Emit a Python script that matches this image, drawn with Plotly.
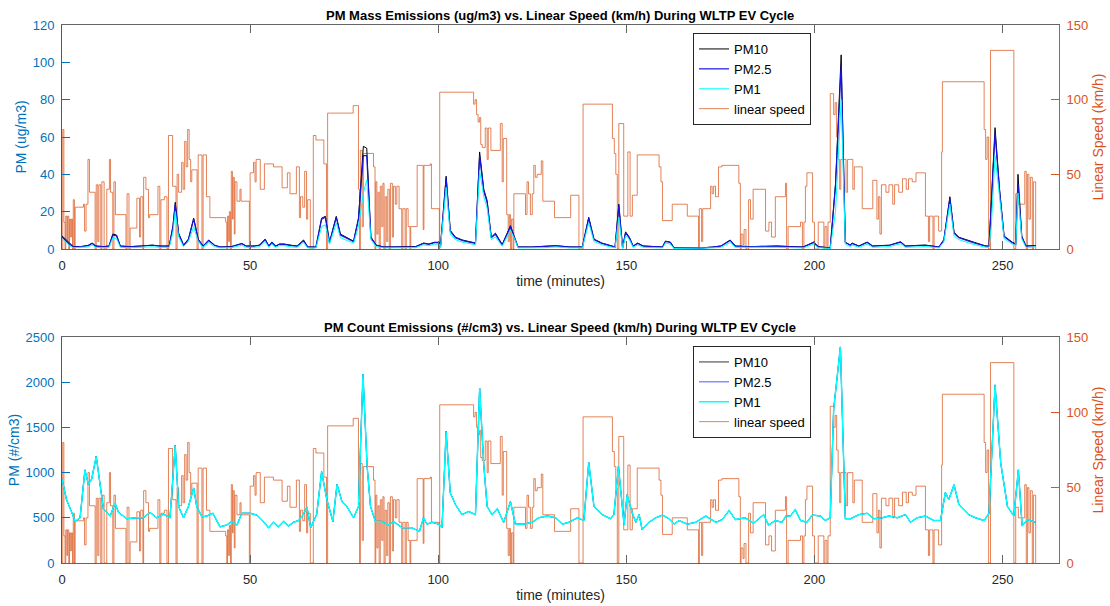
import plotly.graph_objects as go

# ---------------- data ----------------
# linear speed (km/h), step signal: value holds from time t until next time
speed_t = [0, 0.2, 0.5, 0.8, 1.0, 1.3, 1.5, 1.8, 2.0, 2.3, 2.5, 2.8, 3.0, 3.3, 3.5, 5.7, 6.0, 6.4, 6.9, 7.3,
           8.8, 9.1, 9.5, 9.8, 10.3, 10.6, 11.2, 11.9, 12.6, 12.9, 13.5, 13.8, 14.2, 17.0, 17.3, 17.8, 18.1,
           19.9, 20.6, 20.9, 21.5, 21.7, 22.3, 23.0, 23.3, 25.5, 26.0, 26.3, 27.2, 27.9, 28.3, 29.4, 30.3,
           30.6, 31.0, 31.8, 32.2, 32.6, 33.0, 33.4, 33.8, 34.2, 34.5, 35.9, 36.2, 37.2, 37.5, 38.4, 39.3,
           43.5, 43.8, 44.0, 44.3, 44.5, 44.8, 45.0, 45.3, 45.5, 45.8, 46.0, 46.5, 47.3, 47.6, 49.8, 50.0,
           50.9, 51.3, 51.6, 52.7, 53.8, 56.2, 58.5, 59.9, 60.6, 62.3, 63.1, 63.4, 64.0, 64.5, 65.0, 65.3,
           66.0, 66.8, 67.5, 69.6, 70.3, 70.6, 77.4, 78.8, 79.1, 79.3, 79.8, 80.1, 82.8, 83.2, 83.4, 83.7,
           84.0, 84.3, 84.6, 85.0, 85.3, 85.6, 85.9, 86.3, 86.6, 87.0, 87.3, 87.8, 88.1, 88.6, 89.0, 89.6,
           90.3, 90.6, 91.2, 91.5, 92.0, 92.5, 92.7, 94.4, 96.0, 96.2, 97.9, 98.2, 100.3, 100.4, 109.4,
           109.8, 110.2, 110.6, 111.0, 111.3, 111.7, 112.5, 113.0, 113.3, 114.0, 116.5, 117.0, 117.3, 118.2,
           118.6, 118.9, 119.2, 119.5, 119.9, 120.1, 121.2, 123.2, 123.6, 124.0, 124.5, 125.0, 125.4, 125.8,
           126.3, 127.4, 127.8, 129.0, 130.9, 135.2, 137.4, 138.5, 146.3, 146.8, 147.2, 147.6, 148.0, 149.3,
           150.4, 151.0, 151.6, 152.9, 158.7, 159.2, 159.6, 162.2, 166.2, 169.2, 169.4, 170.0, 170.3, 172.4,
           172.8, 173.2, 173.7, 174.5, 175.4, 179.9, 180.3, 180.5, 181.0, 181.3, 181.8, 182.5, 183.0, 183.7,
           187.0, 187.9, 188.6, 189.6, 192.3, 192.6, 193.0, 196.3, 196.8, 197.2, 197.6, 198.0, 199.5, 200.0,
           201.0, 202.5, 202.8, 203.3, 203.6, 204.2, 205.1, 205.5, 205.9, 206.3, 206.7, 207.0, 208.4, 208.8,
           210.2, 210.6, 212.7, 215.5, 216.6, 217.0, 217.4, 217.8, 219.0, 219.8, 220.8, 221.3, 222.4, 223.4,
           224.4, 225.0, 226.0, 227.0, 229.5, 230.3, 230.6, 231.5, 231.8, 233.0, 233.8, 234.0, 245.1, 245.5,
           245.9, 246.3, 246.8, 253.0, 253.5, 254.2, 255.9, 256.3, 256.6, 257.0, 257.4, 257.9, 258.2, 258.8]
speed_v = [0, 80, 18, 0, 22, 5, 22, 0, 20, 8, 20, 0, 33, 0, 28, 30, 12, 30, 60, 38,
           0, 43, 5, 43, 0, 45, 0, 40, 60, 38, 0, 45, 23, 0, 37, 0, 14,
           34, 8, 35, 0, 48, 40, 21, 23, 42, 0, 33, 35, 0, 76, 42, 0,
           50, 38, 58, 40, 72, 55, 80, 60, 45, 53, 0, 63, 0, 63, 35, 21,
           18, 0, 22, 5, 25, 0, 52, 20, 48, 10, 45, 32, 40, 32, 0, 51,
           58, 45, 60, 40, 57, 55, 41, 51, 37, 55, 21, 35, 28, 52, 20, 33,
           0, 76, 73, 57, 0, 91, 96, 40, 0, 66, 15, 64, 55, 0, 45, 10,
           38, 0, 42, 15, 44, 0, 35, 5, 40, 0, 44, 8, 42, 30, 42, 27,
           0, 27, 0, 27, 15, 0, 15, 56, 13, 56, 57, 27, 0, 105, 97,
           100, 90, 85, 88, 70, 68, 81, 60, 81, 66, 84, 45, 74, 23,
           5, 23, 0, 20, 0, 37, 37, 23, 45, 37, 23, 37, 56, 48,
           50, 59, 32, 32, 21, 36, 0, 97, 74, 64, 50, 0, 84, 22,
           65, 22, 36, 63, 55, 45, 19, 30, 22, 0, 27, 5, 27, 42,
           37, 42, 35, 55, 56, 44, 0, 10, 3, 13, 0, 33, 20, 40,
           12, 18, 8, 35, 44, 0, 15, 18, 0, 18, 42, 51, 18, 0,
           18, 0, 15, 0, 18, 104, 90, 98, 75, 60, 40, 60, 38, 60,
           40, 55, 27, 46, 20, 35, 10, 43, 38, 43, 30, 43, 38, 47,
           40, 47, 45, 51, 22, 5, 22, 0, 22, 12, 65, 112, 80, 60,
           75, 0, 133, 0, 37, 30, 52, 0, 50, 20, 48, 0, 45, 0]

# PM mass (ug/m3)
pm_t = [0, 1, 2, 3, 5, 7, 8, 9, 11, 12.5, 13.5, 14.5, 15.5, 18, 21, 24, 26, 28.5, 29.5, 30.1,
        31, 32.3, 33.6, 35, 36.2, 37.5, 39, 40.5, 42, 45, 47.8, 49, 51, 52.5, 54, 55, 55.8, 56.8, 57.8, 59,
        61, 62.5, 64.2, 65.3, 67.5, 69, 70, 71.1, 72.9, 74, 77.5, 78.8, 80.1, 81, 82.1, 83.5, 85.5, 88, 92, 94,
        96.1, 97.5, 99, 100.3, 100.6, 102.1, 103.2, 104.6, 106.5, 109.9, 111, 112.1, 113, 114.1, 115.2, 117,
        119.2, 120.4, 121.2, 125, 128, 131.2, 135, 138.3, 140, 141.4, 143.5, 145.4, 147, 148, 149, 149.8,
        150.8, 151.8, 153, 154.5, 159.6, 160.4, 161.7, 162.7, 166, 170, 173, 175.1, 177.6, 179, 183, 187,
        190, 194, 197, 199.8, 201, 204.2, 205.6, 207.1, 208.2, 209.5, 210, 211.8, 214, 215.5, 218, 220,
        222.9, 224.2, 227, 229.5, 233.1, 234.4, 236, 237.1, 238.4, 242, 245.5, 246.4, 247, 248, 249.2,
        250.4, 252.6, 253.5, 254.1, 255.1, 256.2, 258.8]
pm10_mass = [7, 5, 2.8, 1.3, 1.3, 2, 3.2, 1.6, 1.3, 1.6, 8, 7.5, 1.6, 1.3, 1.6, 2.1, 1.6, 1.6, 12.5, 25,
             8.5, 2.2, 5.3, 16.5, 5.3, 1.6, 4.8, 2.1, 1.1, 1.3, 3, 1.6, 1.6, 2.1, 5.3, 1.6, 3.7, 1.6, 2.7, 2.7,
             2, 1.6, 4.8, 1.1, 1.1, 16.5, 17.5, 3.6, 17.5, 8, 4.2, 16.5, 55, 54, 6.5, 2.1, 1.1, 1.1, 1.1, 1.3,
             3.2, 2.7, 3.6, 3.6, 1.1, 39, 10, 6.3, 4.8, 3.2, 52, 32, 26, 6.3, 8.5, 2.4,
             12.5, 6.3, 1.1, 1.1, 1.3, 1.8, 1.1, 1.1, 17, 5.3, 3.2, 2.1, 1.1, 24, 0.6, 9.2,
             6.3, 1.6, 3.2, 1.6, 1.1, 4.2, 3.7, 0.6, 0.6, 0.6, 1.1, 1.6, 4.8, 1.6, 1.3, 1.6,
             1.6, 1.3, 1.1, 3.7, 1.3, 0.6, 35, 104, 3.7, 2.1, 3.2, 1.6, 3.7, 1.6, 1.9, 2.1,
             3.9, 1.6, 1.9, 2.1, 1.1, 5, 28, 9, 6.3, 3.7, 1.6, 1.6, 24, 65, 32,
             7, 3.6, 2.7, 40, 7, 1.6, 1.9]
pm25_mass = [6.5, 4.5, 2.5, 1.2, 1.2, 1.8, 3, 1.5, 1.2, 1.5, 7.5, 7, 1.5, 1.2, 1.5, 2, 1.5, 1.5, 12, 24,
             8, 2, 5, 16, 5, 1.5, 4.5, 2, 1, 1.2, 2.8, 1.5, 1.5, 2, 5, 1.5, 3.5, 1.5, 2.5, 2.5,
             1.8, 1.5, 4.5, 1, 1, 16, 17, 3.4, 17, 7.5, 4, 16, 50, 50, 6, 2, 1, 1, 1, 1.2,
             3, 2.5, 3.4, 3.4, 1, 38, 9.5, 6, 4.5, 3, 50, 31, 25, 6, 8, 2.2,
             12, 6, 1, 1, 1.2, 1.7, 1, 1, 16.5, 5, 3, 2, 1, 23, 0.5, 8.7,
             6, 1.5, 3, 1.5, 1, 4, 3.5, 0.5, 0.5, 0.5, 1, 1.5, 4.6, 1.5, 1.2, 1.5,
             1.5, 1.2, 1, 3.5, 1.2, 0.5, 34, 98, 3.5, 2, 3, 1.5, 3.5, 1.5, 1.8, 2,
             3.7, 1.5, 1.8, 2, 1, 4.8, 27, 8.5, 6, 3.5, 1.5, 1.5, 23, 62, 31,
             6.6, 3.4, 2.5, 35, 6.5, 1.5, 1.8]
pm1_mass = [5.5, 3.5, 1.8, 0.7, 0.7, 1.1, 2.2, 0.9, 0.7, 0.9, 6, 5.5, 0.9, 0.7, 0.9, 1.2, 0.9, 0.9, 9, 20,
            6.5, 1.3, 4, 12, 4, 0.9, 3.5, 1.3, 0.6, 0.7, 2, 0.9, 0.9, 1.3, 4, 0.9, 2.6, 0.9, 1.8, 1.8,
            1.1, 0.9, 3.5, 0.6, 0.6, 12, 13, 2.6, 14, 6, 3.2, 12, 30, 37, 5, 1.3, 0.6, 0.6, 0.6, 0.7,
            2.2, 1.8, 2.6, 2.6, 0.6, 33, 8, 5, 3.6, 2.3, 42, 28, 22, 5, 6.5, 1.5,
            10, 5, 0.6, 0.6, 0.7, 1.1, 0.6, 0.6, 14, 4, 2.3, 1.3, 0.6, 17, 0.3, 7,
            5, 0.9, 2.2, 0.9, 0.6, 3.2, 2.6, 0.3, 0.3, 0.3, 0.6, 0.9, 3.5, 0.9, 0.7, 0.9,
            0.9, 0.7, 0.6, 2.6, 0.7, 0.3, 20, 80, 2.6, 1.3, 2.2, 0.9, 2.6, 0.9, 1.1, 1.3,
            2.8, 0.9, 1.1, 1.3, 0.6, 3.8, 24, 7, 5, 2.6, 0.9, 0.9, 12, 50, 28,
            5.5, 2.6, 1.8, 30, 5.5, 0.9, 1.1]

# PM count (#/cm3)
pc_t = [0, 1.2, 2.6, 3.5, 4.8, 6.1, 7, 7.9, 9.1, 10.1, 11, 12.8, 14.1, 15, 17.2, 19.9, 21.6, 23.4, 25.2, 27,
        28.7, 30.1, 31, 32.3, 33.6, 35, 35.8, 37.2, 38.5, 40.1, 42, 43.8, 45.1, 46.5, 47.8, 50, 51.8, 53.5,
        54.9, 56.2, 57.5, 58.9, 60.2, 61.5, 62.9, 64.2, 65.1, 66.1, 67.7, 69, 70.4, 72, 73.1, 74.4, 75.7,
        77.5, 78.8, 80, 81.1, 82, 83.3, 85, 86.8, 88.1, 90.4, 93, 95, 96.1, 97, 98.4, 100.1, 101, 102.1,
        103.2, 104.6, 106.3, 108.1, 109.9, 111, 112.1, 113, 114.3, 115.7, 117.4, 119.2, 120.5, 122.7, 125,
        126.7, 129, 131.2, 133, 134.7, 137, 138.7, 140, 141.4, 143.6, 145.8, 146.7, 147.9, 149.4, 150.2,
        151.6, 152.5, 153.4, 154.2, 156, 157.8, 159.6, 161.3, 162.7, 164, 166.2, 168.4, 171.1, 173.8,
        175.5, 177.3, 179, 181.6, 183.8, 186.5, 187.8, 189.6, 191.4, 192.4, 193.6, 194.9, 196.3, 198,
        199.4, 201.6, 202.9, 204.2, 205.1, 206.9, 208.2, 209.6, 211.8, 214, 215.8, 218, 219.8, 222,
        224.2, 225.5, 227.3, 229.5, 231.7, 233.5, 234.8, 235.7, 237.1, 238.4, 241, 242.8, 245.1, 246.4,
        248, 249.5, 251.3, 253, 254.2, 255.2, 256.6, 258.8]
pm1_count = [930, 700, 560, 460, 500, 1030, 870, 930, 1180, 870, 600, 520, 663, 560, 490, 500, 500, 560, 500, 540,
             500, 1300, 625, 500, 625, 830, 625, 510, 520, 550, 400, 420, 460, 420, 550, 550, 530, 460,
             390, 450, 400, 460, 410, 450, 470, 540, 620, 390, 540, 1010, 700, 460, 870, 680, 625,
             500, 625, 2090, 1070, 625, 460, 460, 420, 460, 390, 390, 350, 500, 430, 450, 430, 390, 1455,
             775, 645, 535, 570, 535, 1935, 1090, 625, 535, 600, 450, 680, 430, 430, 450,
             500, 520, 500, 430, 450, 500, 470, 1110, 625, 535, 490, 535, 1070, 420, 755,
             550, 450, 535, 370, 450, 500, 530, 490, 430, 470, 430, 450, 520, 450,
             480, 580, 480, 500, 440, 535, 420, 470, 450, 520, 520, 590, 470, 450,
             530, 520, 470, 500, 1700, 2390, 490, 490, 535, 550, 490, 500, 520, 500,
             535, 450, 500, 520, 470, 470, 780, 700, 865, 645, 535, 500, 470, 550,
             1970, 1110, 625, 520, 1030, 410, 480, 450]
# PM10 and PM2.5 counts coincide with PM1 in the picture (hidden beneath the cyan line)
pm10_count = list(pm1_count)
pm25_count = list(pm1_count)

# ---------------- style ----------------
BLUE_AX = "rgb(0,114,189)"
ORANGE = "rgb(217,83,25)"
SPEED_LINE = "rgba(217,83,25,0.72)"
FONT = "Liberation Sans, Arial, Helvetica, sans-serif"
GRAYAX = "rgb(100,100,100)"

fig = go.Figure()

# top subplot: speed on y (right, primary), PM on y2 (left, overlay)
fig.add_trace(go.Scatter(x=speed_t, y=speed_v, mode="lines", line=dict(color=SPEED_LINE, width=1, shape="hv"),
                         name="linear speed", legend="legend", legendrank=4, xaxis="x", yaxis="y"))
fig.add_trace(go.Scatter(x=pm_t, y=pm10_mass, mode="lines", line=dict(color="black", width=1),
                         name="PM10", legend="legend", legendrank=1, xaxis="x", yaxis="y2"))
fig.add_trace(go.Scatter(x=pm_t, y=pm25_mass, mode="lines", line=dict(color="rgb(20,20,230)", width=1.2),
                         name="PM2.5", legend="legend", legendrank=2, xaxis="x", yaxis="y2"))
fig.add_trace(go.Scatter(x=pm_t, y=pm1_mass, mode="lines", line=dict(color="rgb(0,255,255)", width=1),
                         name="PM1", legend="legend", legendrank=3, xaxis="x", yaxis="y2"))

# bottom subplot
fig.add_trace(go.Scatter(x=speed_t, y=speed_v, mode="lines", line=dict(color=SPEED_LINE, width=1, shape="hv"),
                         name="linear speed", legend="legend2", legendrank=4, xaxis="x2", yaxis="y3"))
fig.add_trace(go.Scatter(x=pc_t, y=pm10_count, mode="lines", line=dict(color="black", width=0.8),
                         name="PM10", legend="legend2", legendrank=1, xaxis="x2", yaxis="y4"))
fig.add_trace(go.Scatter(x=pc_t, y=pm25_count, mode="lines", line=dict(color="rgb(40,40,255)", width=0.8),
                         name="PM2.5", legend="legend2", legendrank=2, xaxis="x2", yaxis="y4"))
fig.add_trace(go.Scatter(x=pc_t, y=pm1_count, mode="lines", line=dict(color="rgb(0,255,255)", width=1.5),
                         name="PM1", legend="legend2", legendrank=3, xaxis="x2", yaxis="y4"))

W, H = 1110, 606
xdom = [62 / W, 1059 / W]
top_dom = [1 - 249 / H, 1 - 25 / H]
bot_dom = [1 - 563 / H, 1 - 337 / H]

tickfont = dict(family=FONT, size=13, color="rgb(38,38,38)")
titlefont = dict(family=FONT, size=14, color="rgb(38,38,38)")


def xaxis_cfg(domain_anchor):
    return dict(domain=xdom, anchor=domain_anchor, range=[0, 265], tickvals=[0, 50, 100, 150, 200, 250],
                ticks="inside", ticklen=8, tickcolor=GRAYAX, showline=True, linecolor=GRAYAX, linewidth=1,
                mirror="ticks", showgrid=False, zeroline=False, tickfont=tickfont, automargin=False,
                title=dict(text="time (minutes)", font=titlefont, standoff=4), ticklabelstandoff=4)


def left_cfg(domain, overlay, rng, dtick, title):
    return dict(domain=domain, overlaying=overlay, side="left", range=rng, dtick=dtick, tick0=0,
                ticks="inside", ticklen=8, tickcolor=BLUE_AX, showline=True, linecolor=BLUE_AX, linewidth=1,
                showgrid=False, zeroline=False, tickfont=dict(family=FONT, size=13, color=BLUE_AX),
                title=dict(text=title, font=dict(family=FONT, size=14, color=BLUE_AX), standoff=2),
                ticklabelstandoff=4, automargin=False)


def right_cfg(domain, anchor):
    return dict(domain=domain, anchor=anchor, side="right", range=[0, 150], dtick=50, tick0=0,
                ticks="inside", ticklen=8, tickcolor=ORANGE, showline=True, linecolor=ORANGE, linewidth=1,
                showgrid=False, zeroline=False, tickfont=dict(family=FONT, size=13, color=ORANGE),
                title=dict(text="Linear Speed (km/h)", font=dict(family=FONT, size=14, color=ORANGE), standoff=5),
                ticklabelstandoff=4, automargin=False)


legend_common = dict(xanchor="left", yanchor="top", bgcolor="white", bordercolor="rgb(38,38,38)", borderwidth=1,
                     font=dict(family=FONT, size=13, color="black"), tracegroupgap=0, itemwidth=30)

y_top = right_cfg(top_dom, "x")
y2_top = left_cfg(top_dom, "y", [0, 120], 20, "PM (ug/m3)")
y2_top["anchor"] = "x"
y_bot = right_cfg(bot_dom, "x2")
y4_bot = left_cfg(bot_dom, "y3", [0, 2500], 500, "PM (#/cm3)")
y4_bot["anchor"] = "x2"

fig.update_layout(
    template="none",
    width=W, height=H, margin=dict(l=0, r=0, t=0, b=0, autoexpand=False),
    paper_bgcolor="white", plot_bgcolor="white",
    xaxis=xaxis_cfg("y"), xaxis2=xaxis_cfg("y3"),
    yaxis=y_top, yaxis2=y2_top, yaxis3=y_bot, yaxis4=y4_bot,
    legend=dict(x=693 / W, y=1 - 33 / H, **legend_common),
    legend2=dict(x=693 / W, y=1 - 346 / H, **legend_common),
    showlegend=True,
    annotations=[
        dict(text="<b>PM Mass Emissions (ug/m3) vs. Linear Speed (km/h) During WLTP EV Cycle</b>",
             x=560 / W, y=1 - 15 / H, xref="paper", yref="paper", xanchor="center", yanchor="middle",
             showarrow=False, font=dict(family=FONT, size=13, color="black")),
        dict(text="<b>PM Count Emissions (#/cm3) vs. Linear Speed (km/h) During WLTP EV Cycle</b>",
             x=560 / W, y=1 - 327 / H, xref="paper", yref="paper", xanchor="center", yanchor="middle",
             showarrow=False, font=dict(family=FONT, size=13, color="black")),
    ],
)

fig.write_html("out.html")
